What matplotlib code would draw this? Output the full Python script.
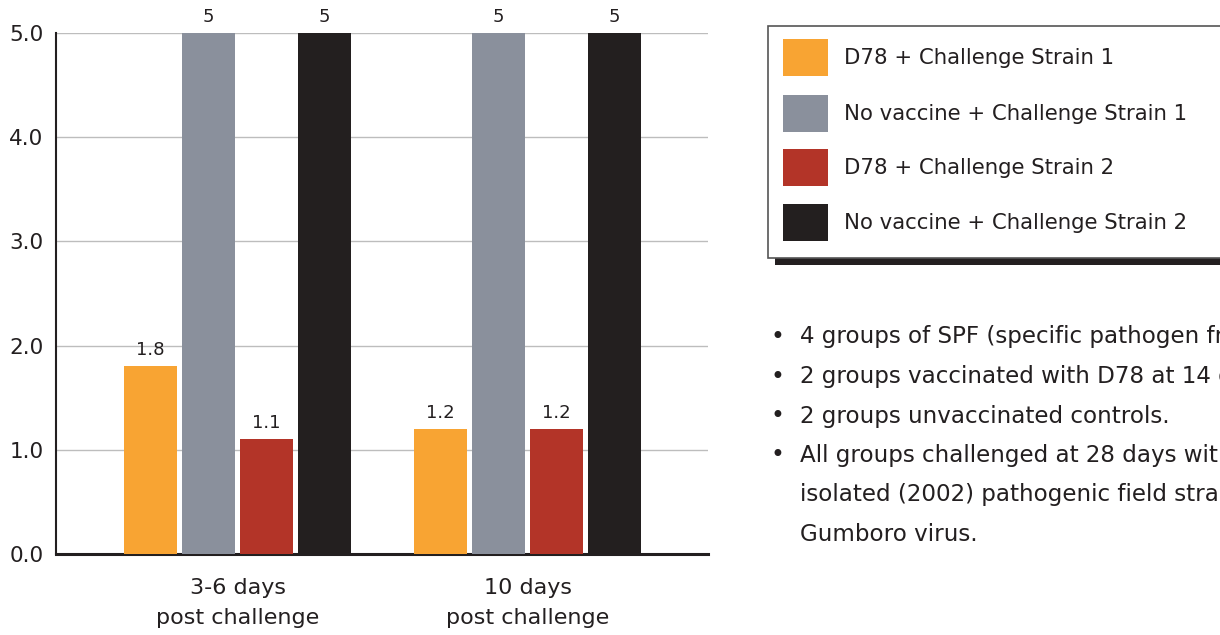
import matplotlib.pyplot as plt
import matplotlib.patches as mpatches
import numpy as np

# data

groups = ["3-6 days\npost challenge", "10 days\npost challenge"]
series = ["D78 + Challenge Strain 1", "No vaccine + Challenge Strain 1",
          "D78 + Challenge Strain 2", "No vaccine + Challenge Strain 2"]
values = [[1.8, 1.2], [5, 5], [1.1, 1.2], [5, 5]]
value_labels = [["1.8", "1.2"], ["5", "5"], ["1.1", "1.2"], ["5", "5"]]
colors = ["#F8A433", "#8A909C", "#B33428", "#231F1F"]
yticks = [0.0, 1.0, 2.0, 3.0, 4.0, 5.0]
notes = [
    "4 groups of SPF (specific pathogen free) chickens.",
    "2 groups vaccinated with D78 at 14 days.",
    "2 groups unvaccinated controls.",
    "All groups challenged at 28 days with a recently\nisolated (2002) pathogenic field strain of\nGumboro virus.",
]

plt.rcParams["font.family"] = ["DejaVu Sans"]

fig = plt.figure(figsize=(12.2, 6.35), dpi=100)
ax = fig.add_axes([56 / 1220, 81 / 635, 652 / 1220, 521 / 635])

x = np.arange(len(groups))
width = 0.183
step = 0.2
for i, (vals, labs) in enumerate(zip(values, value_labels)):
    pos = x + (i - 1.5) * step
    bars = ax.bar(pos, vals, width, color=colors[i], zorder=3, label=series[i])
    for b, lab in zip(bars, labs):
        ax.annotate(lab, (b.get_x() + b.get_width() / 2, b.get_height()),
                    xytext=(0, 5), textcoords="offset points",
                    ha="center", va="bottom", fontsize=13, color="#231F20")

ax.set_xlim(-0.626, 1.622)
ax.set_ylim(0, 5)
ax.set_yticks(yticks)
ax.set_yticklabels([f"{t:.1f}" for t in yticks], fontsize=15.5, color="#231F20")
ax.set_xticks(x)
ax.set_xticklabels(groups, fontsize=16, color="#231F20", linespacing=1.65)
ax.tick_params(axis="both", length=0)
ax.tick_params(axis="y", pad=9)
ax.tick_params(axis="x", pad=17)
ax.yaxis.grid(True, color="#BDBDBD", linewidth=1, zorder=0)
ax.set_axisbelow(True)
for s in ["top", "right"]:
    ax.spines[s].set_visible(False)
ax.spines["left"].set_linewidth(1.5)
ax.spines["bottom"].set_linewidth(2.2)
ax.spines["left"].set_color("#231F20")
ax.spines["bottom"].set_color("#231F20")

# legend box with shadow, drawn in pixel coordinates of the figure
W, H = 1220, 635
def fx(px):
    return px / W
def fy(py):
    return 1 - py / H

shadow = mpatches.Rectangle((fx(775), fy(265)), fx(1300) - fx(775), fy(250) - fy(265),
                            transform=fig.transFigure, facecolor="#231F20",
                            edgecolor="none", zorder=1)
box = mpatches.Rectangle((fx(768), fy(258)), fx(1300) - fx(768), fy(26) - fy(258),
                         transform=fig.transFigure, facecolor="white",
                         edgecolor="#555555", linewidth=1.2, zorder=2)
fig.patches.extend([shadow, box])

swatch_tops = [39, 95, 149, 204]
for i, top in enumerate(swatch_tops):
    sw = mpatches.Rectangle((fx(783), fy(top + 37)), fx(45), 37 / H,
                            transform=fig.transFigure, facecolor=colors[i],
                            edgecolor="none", zorder=3)
    fig.patches.append(sw)
    fig.text(fx(844), fy(top + 19), series[i], fontsize=15.3, color="#231F20",
             va="center", ha="left", zorder=4)

# bullet notes
line_y = 337
for note in notes:
    lines = note.split("\n")
    for j, ln in enumerate(lines):
        if j == 0:
            fig.text(fx(770), fy(line_y), "\u2022", fontsize=17, color="#231F20",
                     va="center", ha="left")
        fig.text(fx(800), fy(line_y), ln, fontsize=16.6, color="#231F20",
                 va="center", ha="left")
        line_y += 39.5

fig.savefig("out.png", dpi=100)
